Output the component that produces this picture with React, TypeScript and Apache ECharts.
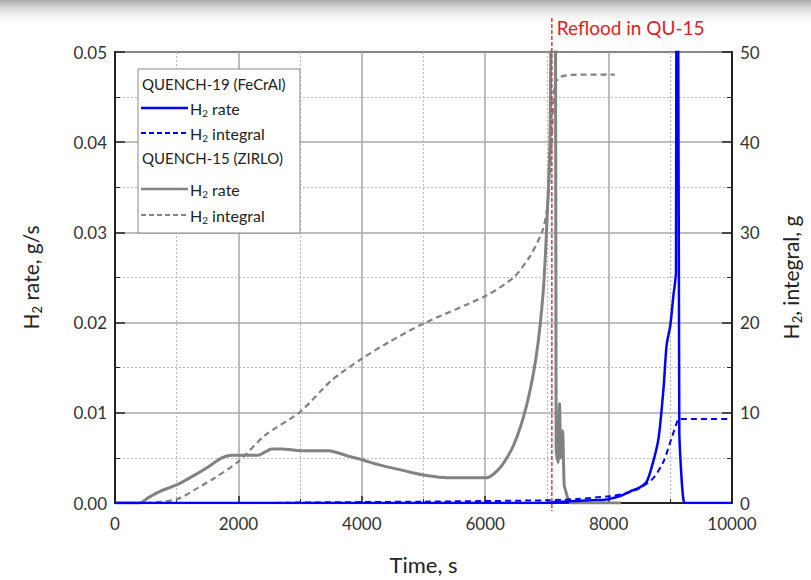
import React, { useEffect, useRef } from "react";
import * as echarts from "echarts";

// QUENCH-15 (ZIRLO) H2 rate, g/s
const q15RateTime = [0, 400, 540, 730, 1000, 1240, 1510, 1730, 1890, 2160, 2320, 2540, 2700, 3020, 3460, 3780, 4000, 4300, 4860, 5000, 5380, 6020, 6240, 6460, 6670, 6830, 6940, 7000, 7050, 7080, 7140, 7150, 7180, 7205, 7225, 7255, 7280, 7310, 7350, 7400, 8200];
const q15RateValues = [0, 0, 0.0006, 0.0013, 0.002, 0.0029, 0.004, 0.005, 0.0053, 0.0053, 0.0053, 0.006, 0.006, 0.0058, 0.0058, 0.0052, 0.0048, 0.0042, 0.0033, 0.0031, 0.0028, 0.0028, 0.0039, 0.0064, 0.0108, 0.0164, 0.0234, 0.0311, 0.0403, 0.06, 0.05, 0.006, 0.0045, 0.011, 0.005, 0.008, 0.002, 0.0012, 0.0003, 0, 0];

// QUENCH-15 (ZIRLO) H2 integral, g
const q15IntTime = [500, 1000, 1350, 1620, 2000, 2430, 3000, 3510, 4000, 4430, 5000, 6020, 6460, 6730, 6940, 7020, 7080, 7130, 7240, 7540, 8100];
const q15IntValues = [0, 0.4, 1.7, 2.8, 4.6, 7.5, 10.1, 13.6, 16.0, 17.8, 19.9, 23.0, 25.0, 27.4, 30.4, 33.7, 40.3, 46.5, 47.3, 47.5, 47.5];

// QUENCH-19 (FeCrAl) H2 rate, g/s
const q19RateTime = [0, 7000, 7100, 7400, 7700, 7970, 8200, 8350, 8500, 8620, 8720, 8810, 8890, 8940, 9000, 9050, 9092, 9100, 9125, 9146, 9180, 9210, 9240, 10000];
const q19RateValues = [0, 0, 0.0001, 0.0002, 0.0003, 0.0004, 0.0008, 0.0013, 0.0017, 0.0024, 0.0045, 0.0072, 0.0127, 0.0175, 0.0197, 0.023, 0.0256, 0.06, 0.06, 0.0079, 0.003, 0.0005, 0, 0];

// QUENCH-19 (FeCrAl) H2 integral, g
const q19IntTime = [0, 2500, 3000, 5000, 7000, 7500, 8000, 8300, 8510, 8725, 8890, 9020, 9100, 9140, 10000];
const q19IntValues = [0, 0, 0.05, 0.15, 0.3, 0.45, 0.75, 1.1, 1.66, 2.76, 4.6, 7.17, 8.8, 9.3, 9.3];

const refloodTime = 7080;
const refloodLabel = "Reflood in QU-15";

const zip = (t: number[], v: number[]) => t.map((x, i) => [x, v[i]]);

const FONT = "Lato, 'Open Sans', sans-serif";
const BLUE = "#0000ff";
const GRAY = "#828282";

export default function App() {
  const ref = useRef<HTMLDivElement>(null);
  useEffect(() => {
    if (!ref.current) return;
    const chart = echarts.init(ref.current, null, { renderer: "svg" });
    const subRich = {
      a: { fontSize: 21, fontFamily: FONT, color: "#222" },
      s: { fontSize: 13, fontFamily: FONT, color: "#222", padding: [12, 0, 0, 0] },
    };
    const smooth = { smooth: 0.25 };
    chart.setOption({
      animation: false,
      backgroundColor: "#fff",
      textStyle: { fontFamily: FONT },
      grid: { left: 115, right: 79, top: 52, bottom: 75, show: true, borderColor: "#222", borderWidth: 2, backgroundColor: "transparent", containLabel: false },
      xAxis: {
        type: "value", min: 0, max: 10000, interval: 2000,
        name: "Time, s", nameLocation: "middle", nameGap: 50,
        nameTextStyle: { fontSize: 22, color: "#222", fontFamily: FONT },
        axisLine: { show: true, lineStyle: { color: "#222", width: 2 } },
        axisTick: { show: true, inside: true, length: 7, lineStyle: { color: "#222", width: 1.5 } },
        minorTick: { show: true, splitNumber: 2, length: 4, lineStyle: { color: "#222" } },
        axisLabel: { fontSize: 17, color: "#333", margin: 12, fontFamily: FONT, formatter: (v: number) => String(v) },
        splitLine: { show: true, lineStyle: { color: "#a8a8a8", width: 1.5 } },
        minorSplitLine: { show: true, lineStyle: { color: "#b8b8b8", width: 1, type: [2, 2] } },
      },
      yAxis: [
        {
          type: "value", min: 0, max: 0.05, interval: 0.01, position: "left",
          name: "{a|H}{s|2}{a| rate, g/s}", nameLocation: "middle", nameGap: 72, nameRotate: 90,
          nameTextStyle: { rich: subRich },
          axisLine: { show: true, lineStyle: { color: "#222", width: 2 } },
          axisTick: { show: true, inside: true, length: 10, lineStyle: { color: "#222", width: 1.5 } },
          minorTick: { show: true, splitNumber: 2, length: 5, lineStyle: { color: "#222" } },
          axisLabel: { fontSize: 17, color: "#333", margin: 8, fontFamily: FONT, formatter: (v: number) => v.toFixed(2) },
          splitLine: { show: true, lineStyle: { color: "#a8a8a8", width: 1.5 } },
          minorSplitLine: { show: true, lineStyle: { color: "#b8b8b8", width: 1, type: [2, 2] } },
        },
        {
          type: "value", min: 0, max: 50, interval: 10, position: "right",
          name: "{a|H}{s|2}{a|, integral, g}", nameLocation: "middle", nameGap: 46, nameRotate: 90,
          nameTextStyle: { rich: subRich },
          axisLine: { show: true, lineStyle: { color: "#222", width: 2 } },
          axisTick: { show: true, inside: true, length: 10, lineStyle: { color: "#222", width: 1.5 } },
          minorTick: { show: true, splitNumber: 2, length: 5, lineStyle: { color: "#222" } },
          axisLabel: { fontSize: 17, color: "#333", margin: 8, fontFamily: FONT },
          splitLine: { show: false },
        },
      ],
      series: [
        { name: "QUENCH-15 H2 rate", type: "line", yAxisIndex: 0, showSymbol: false, ...smooth, data: zip(q15RateTime, q15RateValues), lineStyle: { color: GRAY, width: 3 }, itemStyle: { color: GRAY }, z: 2 },
        { name: "QUENCH-15 H2 integral", type: "line", yAxisIndex: 1, showSymbol: false, ...smooth, data: zip(q15IntTime, q15IntValues), lineStyle: { color: GRAY, width: 2.2, type: [6, 4] }, itemStyle: { color: GRAY }, z: 2 },
        { name: "QUENCH-19 H2 rate", type: "line", yAxisIndex: 0, showSymbol: false, ...smooth, data: zip(q19RateTime, q19RateValues), lineStyle: { color: BLUE, width: 2.5 }, itemStyle: { color: BLUE }, z: 3 },
        { name: "QUENCH-19 H2 integral", type: "line", yAxisIndex: 1, showSymbol: false, ...smooth, data: zip(q19IntTime, q19IntValues), lineStyle: { color: BLUE, width: 2, type: [6, 4] }, itemStyle: { color: BLUE }, z: 3 },
      ],
    });

    const rx = chart.convertToPixel({ xAxisIndex: 0 }, refloodTime) as number;
    const yTop = chart.convertToPixel({ yAxisIndex: 0 }, 0.05) as number;
    const yBot = chart.convertToPixel({ yAxisIndex: 0 }, 0) as number;

    const lx = 138, ly = 69, lw = 162, lh = 164;
    const legendItems: any[] = [];
    const rowText = (y: number, text: string) => ({
      type: "text", x: lx + 4, y, style: { text, fontSize: 15, fontFamily: FONT, fill: "#222", verticalAlign: "middle" },
    });
    const rowLine = (y: number, color: string, dashed: boolean, label: string) => [
      { type: "line", shape: { x1: lx + 3, y1: y, x2: lx + 50, y2: y }, style: { stroke: color, lineWidth: dashed ? 2 : 2.5, lineDash: dashed ? [5, 3] : null } },
      {
        type: "text", x: lx + 52, y,
        style: {
          text: "{a|H}{s|2}{a|" + label + "}", verticalAlign: "middle",
          rich: { a: { fontSize: 16, fontFamily: FONT, fill: "#222" }, s: { fontSize: 10, fontFamily: FONT, fill: "#222", padding: [9, 0, 0, 0] } },
        },
      },
    ];
    legendItems.push(
      { type: "rect", shape: { x: lx, y: ly, width: lw, height: lh }, style: { fill: "#fff", stroke: "#888", lineWidth: 1 } },
      rowText(ly + 15, "QUENCH-19 (FeCrAl)"),
      ...rowLine(ly + 39, BLUE, false, " rate"),
      ...rowLine(ly + 64, BLUE, true, " integral"),
      rowText(ly + 89, "QUENCH-15 (ZIRLO)"),
      ...rowLine(ly + 120, GRAY, false, " rate"),
      ...rowLine(ly + 146, GRAY, true, " integral"),
    );

    chart.setOption({
      graphic: [
        {
          type: "rect", z: -10, silent: true, shape: { x: 0, y: 0, width: 811, height: 26 },
          style: { fill: new echarts.graphic.LinearGradient(0, 0, 0, 1, [{ offset: 0, color: "rgba(160,160,160,0.9)" }, { offset: 1, color: "rgba(255,255,255,0)" }]) },
        },
        { type: "line", z: 100, shape: { x1: rx, y1: yTop - 34, x2: rx, y2: yBot + 8 }, style: { stroke: "#e03a3a", lineWidth: 1.5, lineDash: [4, 2] } },
        { type: "text", z: 100, x: rx + 5, y: yTop - 25, style: { text: refloodLabel, fontSize: 19, fontFamily: FONT, fill: "#e0201e", verticalAlign: "middle" } },
        { type: "group", z: 50, children: legendItems },
      ],
    });
    return () => chart.dispose();
  }, []);
  return <div ref={ref} style={{ position: "fixed", left: 0, top: 0, width: 811, height: 580 }} />;
}
